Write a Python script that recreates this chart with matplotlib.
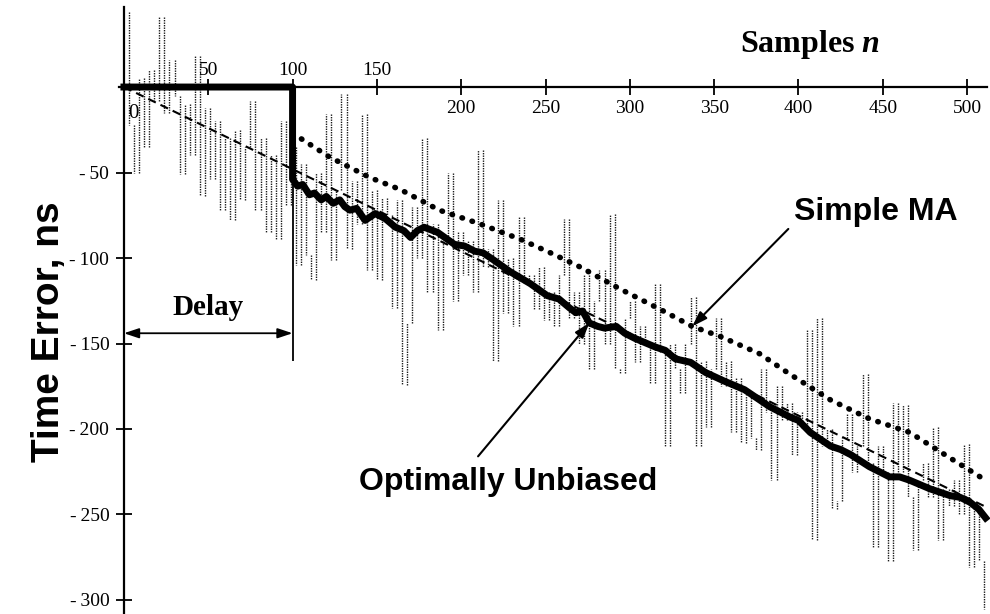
"""
Time error vs samples: noisy measurement, simple MA and optimally unbiased estimate.
"""
import matplotlib
matplotlib.use("Agg")
import matplotlib.pyplot as plt
import numpy as np

plt.rcParams["mathtext.fontset"] = "custom"
plt.rcParams["mathtext.it"] = "Liberation Serif:italic:bold"

# measured time error, every 3rd sample
n_meas = np.arange(0, 511, 3)
y_meas = np.array([44, -22, -50, 5, -35, 10, -8, 41, -15, 16,
          -5, -51, -10, -40, 18, -64, -12, -54, -20, -72,
          -30, -78, -25, -66, -35, -8, -72, -30, -85, -40,
          -89, -20, -69, -35, -104, -45, -98, -113, -50, -85,
          -16, -101, -60, -4, -95, -55, -80, -16, -107, -60,
          -113, -65, -75, -129, -66, -174, -138, -70, -100, -30,
          -120, -80, -142, -90, -50, -125, -85, -110, -90, -120,
          -37, -105, -95, -160, -66, -132, -100, -140, -76, -115,
          -110, -130, -105, -136, -120, -140, -110, -77, -135, -120,
          -150, -110, -165, -125, -107, -150, -74, -165, -167, -135,
          -125, -161, -140, -150, -173, -115, -155, -210, -150, -165,
          -179, -150, -123, -210, -160, -199, -165, -135, -175, -160,
          -202, -170, -208, -180, -205, -212, -165, -190, -230, -175,
          -195, -185, -215, -190, -200, -142, -265, -135, -210, -200,
          -247, -242, -205, -191, -225, -210, -168, -220, -269, -210,
          -225, -277, -185, -225, -186, -240, -271, -230, -220, -240,
          -199, -265, -235, -245, -230, -250, -209, -281, -245, -277, -305])

# true trend (dashed)
n_true = [0, 510]
y_true = [0, -245]

# simple moving average (dotted)
n_ma = [100, 122, 146, 164, 187, 211, 235, 253, 270, 294, 318, 337, 354, 377,
        395, 419, 442, 466, 490, 511]
y_ma = [-27, -41, -53, -60, -72, -80, -89, -97, -105, -118, -130, -140, -146,
        -156, -168, -183, -194, -202, -217, -230]

# optimally unbiased estimate (thick)
n_ou = [0, 100, 100, 103, 106, 110, 113, 117, 120, 124, 128, 131, 134, 138, 143,
        146, 149, 155, 161, 166, 170, 174, 178, 186, 196, 202, 208, 213, 219, 229,
        241, 251, 258, 264, 268, 272, 276, 281, 285, 292, 297, 303, 315, 321, 327,
        336, 345, 356, 368, 377, 383, 395, 400, 407, 419, 425, 431, 442, 454, 460,
        466, 478, 490, 496, 502, 507, 511]
y_ou = [0, 0, -54, -58, -57, -63, -62, -66, -64, -68, -66, -70, -72, -71, -78,
        -76, -74, -77, -82, -84, -88, -84, -82, -85, -92, -93, -96, -97, -101, -108,
        -115, -122, -124, -129, -132, -131, -138, -140, -141, -140, -144, -147, -152,
        -154, -159, -161, -167, -172, -177, -183, -187, -193, -195, -202, -210, -212,
        -215, -222, -228, -228, -230, -235, -239, -240, -243, -247, -252]

xticks_top = [50, 100, 150]
xticks_bot = [200, 250, 300, 350, 400, 450, 500]
yticks = [-50, -100, -150, -200, -250, -300]
delay = 100

serif = "Liberation Serif"
sans = "Liberation Sans"

fig = plt.figure(figsize=(9.9, 6.14), dpi=100)
ax = fig.add_axes([0, 0, 1, 1])
ax.set_xlim(-73.5, 513.6)
ax.set_ylim(-308.2, 50.9)

# noisy samples: vertical strokes from one sample to the next
ax.vlines(n_meas[1:], y_meas[:-1], y_meas[1:], color="0.1", lw=1.0,
          linestyles=[(0, (1, 0.8))], zorder=1)
ax.plot(n_true, y_true, color="k", lw=1.5, ls=(0, (4, 2.5)), zorder=2)
ax.plot(n_ma, y_ma, color="k", lw=4.0, ls=(0, (0.1, 1.8)),
        dash_capstyle="round", zorder=3)
ax.plot(n_ou, y_ou, color="k", lw=5.0, solid_joinstyle="round", zorder=4)

# axes through the origin
for s in ["top", "right"]:
    ax.spines[s].set_visible(False)
ax.spines["left"].set_position(("data", 0))
ax.spines["bottom"].set_position(("data", 0))
ax.spines["left"].set_bounds(-310, 47)
ax.spines["bottom"].set_bounds(-3, 512)
ax.spines["left"].set_linewidth(1.6)
ax.spines["bottom"].set_linewidth(1.6)

ax.set_xticks(xticks_top + xticks_bot)
ax.set_xticklabels([])
ax.set_yticks(yticks)
ax.set_yticklabels(["-\u2009%d" % abs(v) for v in yticks],
                   fontfamily=[serif, "DejaVu Serif"], fontsize=14)
ax.tick_params(axis="both", direction="inout", length=11, width=1.3, pad=5)

for v in xticks_top:
    ax.annotate(str(v), (v, 0), xytext=(0, 6), textcoords="offset points",
                ha="center", va="bottom", fontfamily=serif, fontsize=14)
for v in xticks_bot:
    ax.annotate(str(v), (v, 0), xytext=(0, -9), textcoords="offset points",
                ha="center", va="top", fontfamily=serif, fontsize=14)
ax.annotate("0", (0, 0), xytext=(3, -12), textcoords="offset points",
            ha="left", va="top", fontfamily=serif, fontsize=15)

ax.text(407, 25, "Samples $n$", ha="center", va="center", fontfamily=serif,
        fontweight="bold", fontsize=23)
fig.text(49 / 990, 1 - 332 / 614, "Time Error, ns", rotation=90, ha="center",
         va="center", fontfamily=sans, fontweight="bold", fontsize=28)

# delay marker
ax.vlines(delay, -160, 0, color="k", lw=1.3, zorder=2)
ax.annotate("", xy=(0, -144), xytext=(delay, -144),
            arrowprops=dict(arrowstyle="<|-|>,head_length=0.9,head_width=0.3",
                            color="k", lw=1.3, shrinkA=0, shrinkB=0))
ax.text(delay / 2, -129, "Delay", ha="center", va="center", fontfamily=serif,
        fontweight="bold", fontsize=21)

# labels with arrows
ax.text(446, -73, "Simple MA", ha="center", va="center", fontfamily=sans,
        fontweight="bold", fontsize=23)
ax.annotate("", xy=(n_ma[11], y_ma[11]), xytext=(394, -83),
            arrowprops=dict(arrowstyle="-|>,head_length=0.9,head_width=0.3",
                            color="k", lw=1.5, shrinkA=0, shrinkB=0))
ax.text(228, -231, "Optimally Unbiased", ha="center", va="center", fontfamily=sans,
        fontweight="bold", fontsize=23)
ax.annotate("", xy=(n_ou[36], y_ou[36]), xytext=(210, -216),
            arrowprops=dict(arrowstyle="-|>,head_length=0.9,head_width=0.3",
                            color="k", lw=1.5, shrinkA=0, shrinkB=0))

fig.savefig("out.png", dpi=100)
